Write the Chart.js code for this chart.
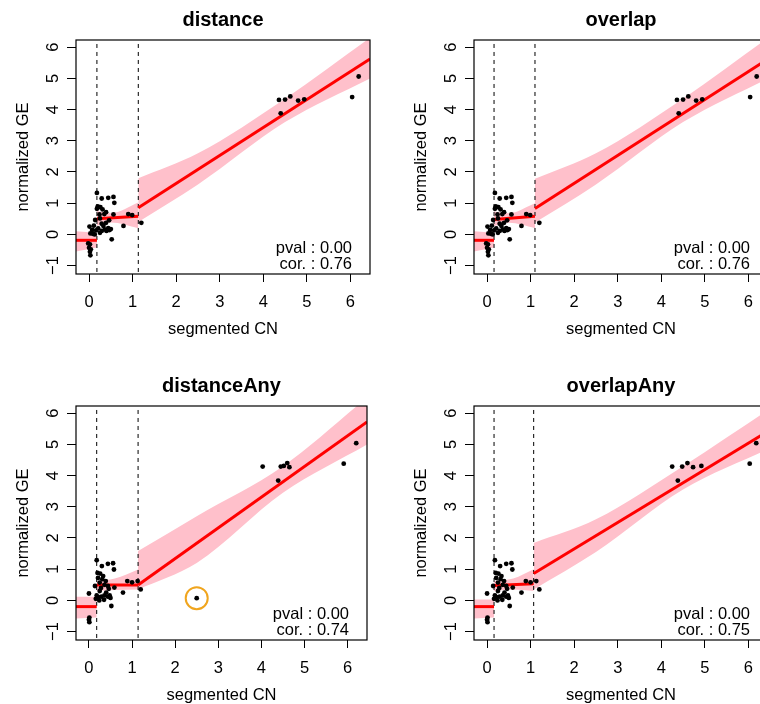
<!DOCTYPE html>
<html>
<head>
<meta charset="utf-8">
<script src="https://cdn.jsdelivr.net/npm/chart.js@4.4.1/dist/chart.umd.min.js"></script>
<style>
  body { margin: 0; width: 760px; height: 704px; overflow: hidden; background: #fff; position: relative; }
  canvas { position: absolute; }
</style>
</head>
<body>
<canvas id="c1" width="380" height="352" style="left:0;top:0"></canvas>
<canvas id="c2" width="380" height="352" style="left:398px;top:0"></canvas>
<canvas id="c3" width="380" height="352" style="left:0;top:366px"></canvas>
<canvas id="c4" width="380" height="352" style="left:398px;top:366px"></canvas>
<script>
// axis ticks
const xTicks = [0, 1, 2, 3, 4, 5, 6];
const yTicks = [-1, 0, 1, 2, 3, 4, 5, 6];

// low-CN cluster, panels distance / overlap
const lowXA = [0.18,0.29,0.44,0.56,0.58,0.2,0.26,0.31,0.18,0.39,0.35,0.56,0.24,0.9,0.99,0.14,0.25,0.46,0.39,0.29,0.79,1.2,0.01,0.07,0.16,0.29,0.36,0.4,0.47,0.25,0.03,0.09,0.52,-0.02,0.02,0.0,0.04,0.02,0.03,0.33,0.11,0.44,0.5,0.13,0.21];
const lowYA = [1.33,1.15,1.17,1.2,1.01,0.9,0.87,0.8,0.82,0.71,0.65,0.64,0.64,0.65,0.62,0.46,0.51,0.45,0.37,0.34,0.27,0.37,0.25,0.14,0.13,0.11,0.16,0.11,0.14,0.05,0.03,0.02,-0.16,-0.29,-0.32,-0.43,-0.48,-0.56,-0.67,0.27,0.28,0.2,0.17,0.0,0.19];
// low-CN cluster, panels distanceAny / overlapAny
const lowXB = [0.18,0.3,0.44,0.56,0.58,0.2,0.26,0.33,0.14,0.25,0.39,0.36,0.44,0.59,0.89,1.0,1.13,1.2,0.79,0.25,0.18,0.29,0.36,0.44,0.48,0.24,0.52,0.46,0.31,0.21,0.4,0.16,0.0,0.01,0.0,0.01,0.28,0.5,0.35,0.22];
const lowYB = [1.29,1.1,1.17,1.19,0.99,0.88,0.86,0.78,0.46,0.57,0.62,0.5,0.46,0.41,0.62,0.58,0.62,0.35,0.25,0.3,0.16,0.12,0.16,0.12,0.16,0.0,-0.18,0.37,0.68,0.72,0.25,0.05,0.22,-0.55,-0.62,-0.7,0.4,0.08,0.02,0.1];

// high-CN points
const highX12 = [4.36,4.5,4.62,4.8,4.94,4.4,6.04,6.19];
const highY12 = [4.31,4.32,4.42,4.29,4.33,3.88,4.4,5.06];
const highX3 = [2.5,4.03,4.45,4.52,4.6,4.65,4.39,5.91,6.2];
const highY3 = [0.07,4.29,4.29,4.31,4.4,4.27,3.84,4.38,5.04];
const highX4 = [4.25,4.48,4.6,4.73,4.92,4.38,6.03,6.18];
const highY4 = [4.29,4.29,4.4,4.27,4.31,3.84,4.38,5.04];

// breakpoints (dashed lines) per panel
const breaks = [[0.18, 1.13], [0.16, 1.1], [0.18, 1.14], [0.16, 1.07]];

// fitted segments: [x0, x1, y0, y1] for the 3 pieces
const fits = [
  [[-0.3, 0.18, -0.19, -0.19], [0.18, 1.13, 0.5, 0.58], [1.13, 6.45, 0.85, 5.62]],
  [[-0.3, 0.16, -0.19, -0.19], [0.16, 1.1, 0.48, 0.58], [1.1, 6.45, 0.83, 5.62]],
  [[-0.3, 0.18, -0.2, -0.2], [0.18, 1.14, 0.49, 0.49], [1.14, 6.45, 0.49, 5.72]],
  [[-0.3, 0.16, -0.2, -0.2], [0.16, 1.07, 0.48, 0.53], [1.07, 6.45, 0.86, 5.42]]
];

// confidence bands: x, upper, lower for each piece
const bands = [
  [
    [[-0.3, 0.18], [0.1, 0.05], [-0.55, -0.42]],
    [[0.18, 0.5, 1.13], [0.75, 0.68, 1.02], [0.28, 0.38, 0.2]],
    [[1.13, 2.5, 4.5, 6.45], [1.8, 2.6, 4.35, 6.3], [0.4, 1.6, 3.6, 5.0]]
  ],
  [
    [[-0.3, 0.16], [0.1, 0.05], [-0.55, -0.42]],
    [[0.16, 0.5, 1.1], [0.73, 0.68, 1.0], [0.27, 0.37, 0.2]],
    [[1.1, 2.5, 4.5, 6.45], [1.78, 2.6, 4.35, 6.3], [0.38, 1.6, 3.6, 5.0]]
  ],
  [
    [[-0.3, 0.18], [0.12, 0.12], [-0.58, -0.55]],
    [[0.18, 0.6, 1.14], [0.62, 0.7, 0.99], [0.3, 0.33, 0.35]],
    [[1.14, 2.5, 4.5, 6.45], [1.58, 2.7, 4.3, 6.5], [0.35, 1.2, 3.45, 5.0]]
  ],
  [
    [[-0.3, 0.16], [0.03, 0.03], [-0.58, -0.55]],
    [[0.16, 0.6, 1.07], [0.62, 0.7, 1.0], [0.3, 0.35, 0.3]],
    [[1.07, 2.5, 4.5, 6.45], [1.84, 2.6, 4.3, 6.1], [0.35, 1.55, 3.55, 4.85]]
  ]
];

const titles = ['distance', 'overlap', 'distanceAny', 'overlapAny'];
const cors = ['0.76', '0.76', '0.74', '0.75'];
const pvals = ['0.00', '0.00', '0.00', '0.00'];

const font = '"Liberation Sans", Arial, Helvetica, sans-serif';
const pink = 'rgb(255,192,203)';

function pts(xs, ys) { return xs.map((v, i) => ({ x: v, y: ys[i] })); }

// draws box, texts and tick labels
const panelText = {
  id: 'panelText',
  afterDraw(chart, args, opts) {
    const { ctx, chartArea: a, scales } = chart;
    const x = scales.x, y = scales.y;
    ctx.save();
    ctx.strokeStyle = '#000';
    ctx.lineWidth = 1.2;
    ctx.strokeRect(a.left, a.top, a.right - a.left, a.bottom - a.top);
    ctx.fillStyle = '#000';
    ctx.textAlign = 'center';
    ctx.textBaseline = 'alphabetic';
    ctx.font = 'bold 20px ' + font;
    ctx.fillText(opts.title, (a.left + a.right) / 2, 26);
    ctx.font = '16.5px ' + font;
    xTicks.forEach(v => ctx.fillText(String(v), x.getPixelForValue(v), 307));
    ctx.fillText('segmented CN', (a.left + a.right) / 2, 334);
    yTicks.forEach(v => {
      ctx.save();
      ctx.translate(58, y.getPixelForValue(v));
      ctx.rotate(-Math.PI / 2);
      ctx.fillText(v < 0 ? '\u2212' + Math.abs(v) : String(v), 0, 0);
      ctx.restore();
    });
    ctx.save();
    ctx.translate(28, (a.top + a.bottom) / 2);
    ctx.rotate(-Math.PI / 2);
    ctx.fillText('normalized GE', 0, 0);
    ctx.restore();
    ctx.textAlign = 'right';
    ctx.fillText('pval : ' + opts.pval, a.right - 18, 253);
    ctx.fillText('cor. : ' + opts.cor, a.right - 18, 269);
    ctx.restore();
  }
};

function makePanel(id, k, lowX, lowY, highX, highY) {
  const ds = [];
  ds.push({ data: pts(lowX, lowY).concat(pts(highX, highY)), pointRadius: 2.4, pointBackgroundColor: '#000', pointBorderWidth: 0, showLine: false });
  if (k === 2) {
    // highlight circle around the stray point
    ds.push({ data: [{ x: 2.5, y: 0.07 }], pointRadius: 11, pointBorderWidth: 2, pointBorderColor: 'rgb(240,165,30)', pointBackgroundColor: 'rgba(0,0,0,0)', showLine: false, clip: false });
  }
  fits[k].forEach(f => ds.push({ data: [{ x: f[0], y: f[2] }, { x: f[1], y: f[3] }], showLine: true, borderColor: 'rgb(255,0,0)', borderWidth: 3, pointRadius: 0 }));
  breaks[k].forEach(b => ds.push({ data: [{ x: b, y: -3 }, { x: b, y: 8 }], showLine: true, borderColor: '#000', borderWidth: 1, borderDash: [4, 4], pointRadius: 0 }));
  bands[k].forEach(b => {
    ds.push({ data: pts(b[0], b[1]), showLine: true, borderWidth: 0, pointRadius: 0, fill: '+1', backgroundColor: pink, cubicInterpolationMode: 'monotone' });
    ds.push({ data: pts(b[0], b[2]), showLine: true, borderWidth: 0, pointRadius: 0, fill: false, cubicInterpolationMode: 'monotone' });
  });

  new Chart(document.getElementById(id), {
    type: 'scatter',
    data: { datasets: ds },
    options: {
      responsive: false,
      animation: false,
      devicePixelRatio: 1,
      layout: { padding: { left: 0, right: 10, top: 40, bottom: 0 } },
      plugins: {
        legend: { display: false },
        tooltip: { enabled: false },
        panelText: { title: titles[k], cor: cors[k], pval: pvals[k] }
      },
      scales: {
        x: {
          type: 'linear', min: -0.3, max: 6.45,
          afterBuildTicks: s => { s.ticks = xTicks.map(v => ({ value: v })); },
          afterFit: s => { s.height = 78; },
          ticks: { display: false },
          grid: { drawOnChartArea: false, drawTicks: true, tickLength: 8, color: '#000' },
          border: { display: false }
        },
        y: {
          type: 'linear', min: -1.27, max: 6.23,
          afterBuildTicks: s => { s.ticks = yTicks.map(v => ({ value: v })); },
          afterFit: s => { s.width = 76; },
          ticks: { display: false },
          grid: { drawOnChartArea: false, drawTicks: true, tickLength: 9, color: '#000' },
          border: { display: false }
        }
      }
    },
    plugins: [panelText]
  });
}

makePanel('c1', 0, lowXA, lowYA, highX12, highY12);
makePanel('c2', 1, lowXA, lowYA, highX12, highY12);
makePanel('c3', 2, lowXB, lowYB, highX3, highY3);
makePanel('c4', 3, lowXB, lowYB, highX4, highY4);
</script>
</body>
</html>
